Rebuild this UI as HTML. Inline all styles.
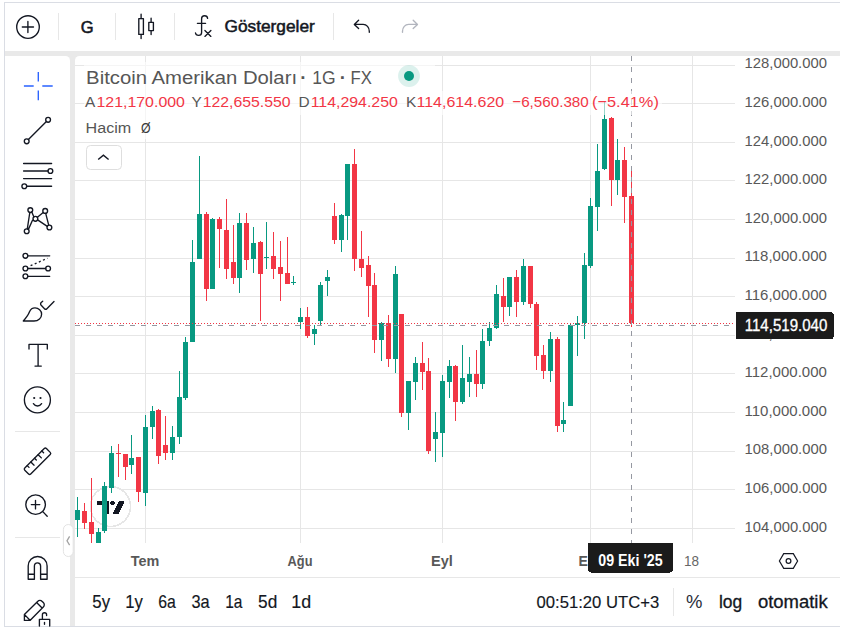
<!DOCTYPE html>
<html><head><meta charset="utf-8"><title>BTCUSD</title>
<style>
html,body{margin:0;padding:0;background:#fff;}
body{width:846px;height:630px;overflow:hidden;position:relative;font-family:'Liberation Sans', Arial, sans-serif;}
svg text{font-family:'Liberation Sans', Arial, sans-serif;}
</style></head><body>
<svg width="846" height="630" viewBox="0 0 846 630" style="position:absolute;left:0;top:0" shape-rendering="crispEdges"><defs><clipPath id="pc"><rect x="75" y="56" width="660" height="487"/></clipPath></defs><rect x="4" y="2" width="836" height="625" fill="#e9e9e9"/><rect x="4" y="2" width="836" height="1" fill="#dadde4"/><rect x="4" y="2" width="1" height="625" fill="#dadde4"/><rect x="4" y="626" width="836" height="1" fill="#dadde4"/><rect x="5" y="3" width="835" height="48" fill="#fff"/><path d="M5 56 H65.5 A4.5 4.5 0 0 1 70 60.5 V626 H5 Z" fill="#fff" shape-rendering="geometricPrecision"/><path d="M79.5 56 H840 V578 H75 V60.5 A4.5 4.5 0 0 1 79.5 56 Z" fill="#fff" shape-rendering="geometricPrecision"/><rect x="75" y="578" width="765" height="48" fill="#fff"/><rect x="75" y="577" width="765" height="1" fill="#e7e7e7"/><g clip-path="url(#pc)"><rect x="75" y="65" width="660" height="1" fill="#e6e6e6"/><rect x="75" y="103" width="660" height="1" fill="#e6e6e6"/><rect x="75" y="142" width="660" height="1" fill="#e6e6e6"/><rect x="75" y="180" width="660" height="1" fill="#e6e6e6"/><rect x="75" y="219" width="660" height="1" fill="#e6e6e6"/><rect x="75" y="258" width="660" height="1" fill="#e6e6e6"/><rect x="75" y="296" width="660" height="1" fill="#e6e6e6"/><rect x="75" y="335" width="660" height="1" fill="#e6e6e6"/><rect x="75" y="373" width="660" height="1" fill="#e6e6e6"/><rect x="75" y="412" width="660" height="1" fill="#e6e6e6"/><rect x="75" y="451" width="660" height="1" fill="#e6e6e6"/><rect x="75" y="489" width="660" height="1" fill="#e6e6e6"/><rect x="75" y="528" width="660" height="1" fill="#e6e6e6"/><rect x="145" y="56" width="1" height="487" fill="#e6e6e6"/><rect x="300" y="56" width="1" height="487" fill="#e6e6e6"/><rect x="442" y="56" width="1" height="487" fill="#e6e6e6"/><rect x="590" y="56" width="1" height="487" fill="#e6e6e6"/><rect x="692" y="56" width="1" height="487" fill="#e6e6e6"/><circle cx="110.5" cy="506.5" r="20" fill="#fff" fill-opacity="0.95" stroke="#e6e6e6" stroke-width="1.5"/><g fill="#131722"><path d="M97 500.5h12.3v13.6h-4v-9.1h-8.3z"/><circle cx="112.6" cy="503.1" r="2.3"/><path d="M119.3 500.5h5.6l-6.2 13.6h-6z"/></g><rect x="77" y="497" width="1" height="40" fill="#089981"/><rect x="75" y="510" width="5" height="10" fill="#089981"/><rect x="84" y="503" width="1" height="26" fill="#f23645"/><rect x="82" y="511" width="5" height="12" fill="#f23645"/><rect x="91" y="478" width="1" height="65" fill="#f23645"/><rect x="89" y="522" width="5" height="12" fill="#f23645"/><rect x="98" y="528" width="1" height="15" fill="#089981"/><rect x="96" y="532" width="5" height="11" fill="#089981"/><rect x="104" y="482" width="1" height="51" fill="#089981"/><rect x="102" y="486" width="5" height="45" fill="#089981"/><rect x="111" y="446" width="1" height="47" fill="#089981"/><rect x="109" y="453" width="5" height="35" fill="#089981"/><rect x="118" y="444" width="1" height="33" fill="#f23645"/><rect x="116" y="453" width="5" height="1" fill="#f23645"/><rect x="125" y="454" width="1" height="26" fill="#f23645"/><rect x="123" y="454" width="5" height="13" fill="#f23645"/><rect x="131" y="435" width="1" height="39" fill="#089981"/><rect x="129" y="458" width="5" height="7" fill="#089981"/><rect x="138" y="457" width="1" height="45" fill="#f23645"/><rect x="136" y="457" width="5" height="35" fill="#f23645"/><rect x="145" y="415" width="1" height="91" fill="#089981"/><rect x="143" y="427" width="5" height="66" fill="#089981"/><rect x="152" y="406" width="1" height="33" fill="#089981"/><rect x="150" y="411" width="5" height="16" fill="#089981"/><rect x="158" y="409" width="1" height="55" fill="#f23645"/><rect x="156" y="410" width="5" height="46" fill="#f23645"/><rect x="165" y="416" width="1" height="44" fill="#f23645"/><rect x="163" y="445" width="5" height="8" fill="#f23645"/><rect x="172" y="426" width="1" height="34" fill="#089981"/><rect x="170" y="437" width="5" height="16" fill="#089981"/><rect x="179" y="371" width="1" height="73" fill="#089981"/><rect x="177" y="397" width="5" height="40" fill="#089981"/><rect x="185" y="337" width="1" height="63" fill="#089981"/><rect x="183" y="342" width="5" height="56" fill="#089981"/><rect x="192" y="240" width="1" height="102" fill="#089981"/><rect x="190" y="262" width="5" height="80" fill="#089981"/><rect x="199" y="156" width="1" height="103" fill="#089981"/><rect x="197" y="214" width="5" height="45" fill="#089981"/><rect x="206" y="212" width="1" height="89" fill="#f23645"/><rect x="204" y="214" width="5" height="75" fill="#f23645"/><rect x="212" y="218" width="1" height="71" fill="#089981"/><rect x="210" y="219" width="5" height="70" fill="#089981"/><rect x="219" y="217" width="1" height="51" fill="#f23645"/><rect x="217" y="219" width="5" height="10" fill="#f23645"/><rect x="226" y="199" width="1" height="80" fill="#f23645"/><rect x="224" y="230" width="5" height="39" fill="#f23645"/><rect x="233" y="225" width="1" height="59" fill="#f23645"/><rect x="231" y="262" width="5" height="16" fill="#f23645"/><rect x="239" y="213" width="1" height="80" fill="#089981"/><rect x="237" y="223" width="5" height="55" fill="#089981"/><rect x="246" y="213" width="1" height="57" fill="#f23645"/><rect x="244" y="223" width="5" height="37" fill="#f23645"/><rect x="253" y="227" width="1" height="46" fill="#089981"/><rect x="251" y="243" width="5" height="16" fill="#089981"/><rect x="260" y="241" width="1" height="80" fill="#f23645"/><rect x="258" y="242" width="5" height="32" fill="#f23645"/><rect x="266" y="222" width="1" height="47" fill="#089981"/><rect x="264" y="257" width="5" height="1" fill="#089981"/><rect x="273" y="232" width="1" height="47" fill="#f23645"/><rect x="271" y="256" width="5" height="13" fill="#f23645"/><rect x="280" y="241" width="1" height="60" fill="#f23645"/><rect x="278" y="267" width="5" height="7" fill="#f23645"/><rect x="287" y="237" width="1" height="47" fill="#f23645"/><rect x="285" y="273" width="5" height="11" fill="#f23645"/><rect x="293" y="276" width="1" height="9" fill="#089981"/><rect x="291" y="282" width="5" height="1" fill="#089981"/><rect x="300" y="308" width="1" height="21" fill="#089981"/><rect x="298" y="317" width="5" height="5" fill="#089981"/><rect x="307" y="307" width="1" height="31" fill="#f23645"/><rect x="305" y="317" width="5" height="19" fill="#f23645"/><rect x="314" y="325" width="1" height="20" fill="#089981"/><rect x="312" y="329" width="5" height="5" fill="#089981"/><rect x="320" y="282" width="1" height="43" fill="#089981"/><rect x="318" y="285" width="5" height="36" fill="#089981"/><rect x="327" y="270" width="1" height="26" fill="#089981"/><rect x="325" y="277" width="5" height="4" fill="#089981"/><rect x="334" y="203" width="1" height="41" fill="#f23645"/><rect x="332" y="216" width="5" height="24" fill="#f23645"/><rect x="341" y="214" width="1" height="38" fill="#089981"/><rect x="339" y="215" width="5" height="25" fill="#089981"/><rect x="347" y="164" width="1" height="76" fill="#089981"/><rect x="345" y="164" width="5" height="52" fill="#089981"/><rect x="354" y="149" width="1" height="122" fill="#f23645"/><rect x="352" y="164" width="5" height="95" fill="#f23645"/><rect x="361" y="231" width="1" height="46" fill="#f23645"/><rect x="359" y="259" width="5" height="9" fill="#f23645"/><rect x="368" y="256" width="1" height="61" fill="#f23645"/><rect x="366" y="265" width="5" height="21" fill="#f23645"/><rect x="374" y="273" width="1" height="80" fill="#f23645"/><rect x="372" y="285" width="5" height="55" fill="#f23645"/><rect x="381" y="322" width="1" height="39" fill="#089981"/><rect x="379" y="323" width="5" height="17" fill="#089981"/><rect x="388" y="315" width="1" height="52" fill="#f23645"/><rect x="386" y="323" width="5" height="36" fill="#f23645"/><rect x="395" y="266" width="1" height="107" fill="#089981"/><rect x="393" y="274" width="5" height="85" fill="#089981"/><rect x="401" y="314" width="1" height="103" fill="#f23645"/><rect x="399" y="314" width="5" height="99" fill="#f23645"/><rect x="408" y="381" width="1" height="49" fill="#089981"/><rect x="406" y="381" width="5" height="32" fill="#089981"/><rect x="415" y="357" width="1" height="43" fill="#089981"/><rect x="413" y="363" width="5" height="19" fill="#089981"/><rect x="422" y="342" width="1" height="48" fill="#f23645"/><rect x="420" y="363" width="5" height="9" fill="#f23645"/><rect x="428" y="358" width="1" height="96" fill="#f23645"/><rect x="426" y="371" width="5" height="80" fill="#f23645"/><rect x="435" y="412" width="1" height="50" fill="#089981"/><rect x="433" y="432" width="5" height="7" fill="#089981"/><rect x="442" y="375" width="1" height="82" fill="#089981"/><rect x="440" y="381" width="5" height="52" fill="#089981"/><rect x="449" y="360" width="1" height="38" fill="#089981"/><rect x="447" y="366" width="5" height="16" fill="#089981"/><rect x="455" y="365" width="1" height="56" fill="#f23645"/><rect x="453" y="366" width="5" height="36" fill="#f23645"/><rect x="462" y="345" width="1" height="59" fill="#089981"/><rect x="460" y="378" width="5" height="24" fill="#089981"/><rect x="469" y="357" width="1" height="40" fill="#089981"/><rect x="467" y="374" width="5" height="8" fill="#089981"/><rect x="476" y="350" width="1" height="47" fill="#f23645"/><rect x="474" y="374" width="5" height="10" fill="#f23645"/><rect x="482" y="329" width="1" height="60" fill="#089981"/><rect x="480" y="341" width="5" height="43" fill="#089981"/><rect x="489" y="322" width="1" height="24" fill="#089981"/><rect x="487" y="328" width="5" height="13" fill="#089981"/><rect x="496" y="285" width="1" height="44" fill="#089981"/><rect x="494" y="294" width="5" height="34" fill="#089981"/><rect x="503" y="278" width="1" height="44" fill="#f23645"/><rect x="501" y="296" width="5" height="11" fill="#f23645"/><rect x="509" y="277" width="1" height="39" fill="#089981"/><rect x="507" y="277" width="5" height="30" fill="#089981"/><rect x="516" y="270" width="1" height="47" fill="#f23645"/><rect x="514" y="277" width="5" height="25" fill="#f23645"/><rect x="523" y="259" width="1" height="46" fill="#089981"/><rect x="521" y="266" width="5" height="36" fill="#089981"/><rect x="530" y="266" width="1" height="42" fill="#f23645"/><rect x="528" y="266" width="5" height="38" fill="#f23645"/><rect x="536" y="302" width="1" height="68" fill="#f23645"/><rect x="534" y="304" width="5" height="52" fill="#f23645"/><rect x="543" y="345" width="1" height="34" fill="#f23645"/><rect x="541" y="355" width="5" height="16" fill="#f23645"/><rect x="550" y="332" width="1" height="50" fill="#089981"/><rect x="548" y="339" width="5" height="32" fill="#089981"/><rect x="557" y="337" width="1" height="95" fill="#f23645"/><rect x="555" y="339" width="5" height="87" fill="#f23645"/><rect x="563" y="402" width="1" height="30" fill="#089981"/><rect x="561" y="420" width="5" height="4" fill="#089981"/><rect x="570" y="324" width="1" height="82" fill="#089981"/><rect x="568" y="325" width="5" height="81" fill="#089981"/><rect x="577" y="316" width="1" height="40" fill="#089981"/><rect x="575" y="323" width="5" height="2" fill="#089981"/><rect x="584" y="253" width="1" height="86" fill="#089981"/><rect x="582" y="265" width="5" height="58" fill="#089981"/><rect x="590" y="198" width="1" height="70" fill="#089981"/><rect x="588" y="206" width="5" height="60" fill="#089981"/><rect x="597" y="144" width="1" height="87" fill="#089981"/><rect x="595" y="171" width="5" height="36" fill="#089981"/><rect x="604" y="101" width="1" height="69" fill="#089981"/><rect x="602" y="119" width="5" height="50" fill="#089981"/><rect x="611" y="117" width="1" height="89" fill="#f23645"/><rect x="609" y="118" width="5" height="62" fill="#f23645"/><rect x="617" y="139" width="1" height="56" fill="#089981"/><rect x="615" y="160" width="5" height="20" fill="#089981"/><rect x="624" y="147" width="1" height="76" fill="#f23645"/><rect x="622" y="160" width="5" height="37" fill="#f23645"/><rect x="631" y="171" width="1" height="156" fill="#f23645"/><rect x="629" y="196" width="5" height="127" fill="#f23645"/><line x1="75" y1="323.5" x2="735" y2="323.5" stroke="#f23645" stroke-width="1" stroke-dasharray="1 2"/><line x1="75" y1="325.5" x2="735" y2="325.5" stroke="#9598a1" stroke-width="1" stroke-dasharray="5 6"/><line x1="631.5" y1="56" x2="631.5" y2="543" stroke="#9598a1" stroke-width="1" stroke-dasharray="5 6"/></g>
<g fill="none" stroke="#131722" stroke-width="1.35" shape-rendering="geometricPrecision" stroke-linecap="round" stroke-linejoin="round"><circle cx="28" cy="27" r="11.3"/><path d="M22.3 27H33.5M27.9 21.4V32.6"/><rect x="138.8" y="18.6" width="4.6" height="15.8"/><path d="M141.1 14.2V18.6M141.1 34.4V38.6"/><rect x="148.8" y="22.3" width="4.6" height="8.3"/><path d="M151.1 18.2V22.3M151.1 30.6V34.6"/><path d="M207.6 18.4C207.4 16.6 206.1 15.7 204.6 15.7C202.8 15.7 201.6 16.9 201.6 18.7V32.4C201.6 34.3 200.4 35.3 198.6 35.3C197 35.3 195.7 34.5 195.5 33.0M197.4 23.3H205.6M204.9 30.5L210.9 36.4M210.9 30.5L204.9 36.4"/><path d="M358.6 20.3L354.3 24.4L358.6 28.6M354.6 24.4H363.2C366.6 24.4 369.3 27.3 369.3 31.3V32.3"/><path stroke="#b2b5be" d="M413.2 20.3L417.5 24.4L413.2 28.6M417.2 24.4H408.6C405.2 24.4 402.5 27.3 402.5 31.3V32.3"/></g><rect x="58" y="13" width="1" height="27" fill="#e7e7e7"/><rect x="115" y="13" width="1" height="27" fill="#e7e7e7"/><rect x="174" y="13" width="1" height="27" fill="#e7e7e7"/><rect x="333" y="13" width="1" height="27" fill="#e7e7e7"/><g fill="none" stroke="#131722" stroke-width="1.35" shape-rendering="geometricPrecision" stroke-linecap="round" stroke-linejoin="round"><path stroke="#2962ff" stroke-linecap="butt" d="M38.3 72V81.5M38.3 90.6V100.2M23.9 86H33.7M42.3 86H52.7"/><path d="M28.4 139.6L46.4 121.5"/><circle cx="26.7" cy="141.3" r="2.4"/><circle cx="48.1" cy="119.8" r="2.4"/><path d="M23.6 163.5H51.6M23.6 171H48M23.6 178.6H51.6M26.8 186.2H51.6"/><circle cx="50.4" cy="171" r="2.4"/><circle cx="24.3" cy="186.2" r="2.4"/><path d="M27.3 228.9L29.8 212.5M31.8 211.9L33.9 217M32.5 220.3L28.4 229.4M37.4 217.3L43.2 212.6M45.7 213.3L48.7 225.1M37.6 219.9L47.3 226.4"/><circle cx="30.3" cy="210.1" r="2.4"/><circle cx="45.2" cy="210.9" r="2.4"/><circle cx="35.4" cy="218.8" r="2.4"/><circle cx="26.7" cy="231.2" r="2.4"/><circle cx="49.4" cy="227.5" r="2.4"/><path d="M27.8 255.8H49.7M27.8 268.5H45.7M27.8 276.3H49.7"/><path stroke-dasharray="2 2.5" stroke-linecap="butt" d="M30.6 265.6L47.5 258.3"/><circle cx="25.4" cy="255.8" r="2.4"/><circle cx="25.4" cy="268.5" r="2.4"/><circle cx="48.1" cy="268.5" r="2.4"/><circle cx="25.4" cy="276.3" r="2.4"/><path d="M23.3 321H34C38.5 321 41.6 317.8 41.6 314.2C41.6 310.6 38.6 307.9 35 307.9C32.2 307.9 30.4 309.6 29.5 311.8C28.3 315 26 318 23.3 321Z"/><path d="M42.7 301.3L41.2 302.6C40.4 303.4 40.4 304.5 41.2 305.3L44.5 308.7C45.2 309.4 46.2 309.4 46.9 308.7L54 301.5"/><path d="M29 349V344.3H47.3V349M38.1 344.3V366.1M35 366.1H41.3"/><circle cx="37.4" cy="399.9" r="13"/><path d="M33.4 403.6C35.5 406.8 39.5 406.8 41.6 403.6"/><circle cx="34.2" cy="398" r="1.1" fill="#131722" stroke="none"/><circle cx="40.5" cy="398" r="1.1" fill="#131722" stroke="none"/><g transform="translate(37.5 461.3) rotate(-45)"><rect x="-15.3" y="-4.2" width="30.6" height="8.4" rx="1.5"/><path d="M-10.3 -4.2v2.5M-5.15 -4.2v4.5M0 -4.2v2.5M5.15 -4.2v4.5M10.3 -4.2v2.5"/></g><circle cx="35.6" cy="504.6" r="9.8"/><path d="M42.8 511.6L47.2 516.2M31.3 504.6H39.8M35.5 500.3V508.9"/><path d="M28.2 579.2V566C28.2 560.8 32.4 556.5 37.65 556.5C42.9 556.5 47.1 560.8 47.1 566V579.2H40.6V566C40.6 564.2 39.3 562.8 37.5 562.8C35.7 562.8 34.4 564.2 34.4 566V579.2Z M28.2 574.2H34.4M40.6 574.2H47.1"/><path d="M24.4 614.6L37.6 601.4C38.9 600.1 40.9 600.1 42.2 601.4L43.3 602.5C44.6 603.8 44.6 605.8 43.3 607.1L30 620.4H24.4Z M24.6 614.6L30 620.2 M37.1 603.1L41.6 607.6"/><path d="M42.4 619V614.8C42.4 613.6 43.4 612.7 44.5 612.7C45.6 612.7 46.6 613.6 46.6 614.8V615.6M39.4 626V619.3H49.7V626M44.5 622.3V624.3"/></g><rect x="15" y="431" width="45" height="1" fill="#e7e7e7"/><rect x="15" y="537" width="45" height="1" fill="#e7e7e7"/><rect x="63.4" y="524.5" width="9.8" height="32" rx="4.9" fill="#fff" stroke="#e3e3e3" shape-rendering="geometricPrecision"/><path d="M69.6 536.4L67 540.8L69.6 545.1" fill="none" stroke="#a3a3a3" stroke-width="1.3" shape-rendering="geometricPrecision"/><rect x="86.5" y="145.5" width="35" height="24" rx="4" fill="#fff" stroke="#dedede" shape-rendering="geometricPrecision"/><path d="M98.2 159.5L103.4 155.2L108.6 159.5" fill="none" stroke="#131722" stroke-width="1.4" shape-rendering="geometricPrecision"/><path d="M783.7 553.6H793.3L797.6 561L793.3 568.4H783.7L779.4 561Z" fill="none" stroke="#131722" stroke-width="1.2" shape-rendering="geometricPrecision"/><circle cx="788.5" cy="561" r="2.4" fill="none" stroke="#131722" stroke-width="1.2" shape-rendering="geometricPrecision"/><rect x="673" y="588" width="1" height="28" fill="#e7e7e7"/>
<rect x="84" y="62" width="351" height="29" fill="#fff" fill-opacity="0.6"/><rect x="84" y="91" width="578" height="24" fill="#fff" fill-opacity="0.6"/><rect x="84" y="115" width="72" height="24" fill="#fff" fill-opacity="0.6"/><text x="96.47" y="107" font-size="15.4" font-weight="400" fill="#f23645" textLength="88.45" lengthAdjust="spacingAndGlyphs">121,170.000</text><text x="744.54" y="68.3" font-size="15.5" font-weight="400" fill="#585858" textLength="82.45" lengthAdjust="spacingAndGlyphs">128,000.000</text><text x="744.54" y="106.9" font-size="15.5" font-weight="400" fill="#585858" textLength="82.45" lengthAdjust="spacingAndGlyphs">126,000.000</text><text x="744.54" y="145.5" font-size="15.5" font-weight="400" fill="#585858" textLength="82.45" lengthAdjust="spacingAndGlyphs">124,000.000</text><text x="744.54" y="184.1" font-size="15.5" font-weight="400" fill="#585858" textLength="82.45" lengthAdjust="spacingAndGlyphs">122,000.000</text><text x="744.54" y="222.7" font-size="15.5" font-weight="400" fill="#585858" textLength="82.45" lengthAdjust="spacingAndGlyphs">120,000.000</text><text x="744.53" y="261.3" font-size="15.5" font-weight="400" fill="#585858" textLength="82.31" lengthAdjust="spacingAndGlyphs">118,000.000</text><text x="744.53" y="299.9" font-size="15.5" font-weight="400" fill="#585858" textLength="82.31" lengthAdjust="spacingAndGlyphs">116,000.000</text><text x="744.53" y="338.5" font-size="15.5" font-weight="400" fill="#585858" textLength="82.31" lengthAdjust="spacingAndGlyphs">114,000.000</text><text x="744.53" y="377.1" font-size="15.5" font-weight="400" fill="#585858" textLength="82.31" lengthAdjust="spacingAndGlyphs">112,000.000</text><text x="744.53" y="415.7" font-size="15.5" font-weight="400" fill="#585858" textLength="82.31" lengthAdjust="spacingAndGlyphs">110,000.000</text><text x="744.54" y="454.3" font-size="15.5" font-weight="400" fill="#585858" textLength="82.45" lengthAdjust="spacingAndGlyphs">108,000.000</text><text x="744.54" y="492.9" font-size="15.5" font-weight="400" fill="#585858" textLength="82.45" lengthAdjust="spacingAndGlyphs">106,000.000</text><text x="744.54" y="531.5" font-size="15.5" font-weight="400" fill="#585858" textLength="82.45" lengthAdjust="spacingAndGlyphs">104,000.000</text><text x="578.50" y="565.8" font-size="14" font-weight="700" fill="#585858">Eki</text><circle cx="409" cy="76" r="10.9" fill="#089981" fill-opacity="0.14" shape-rendering="geometricPrecision"/><circle cx="409" cy="76" r="5" fill="#089981" shape-rendering="geometricPrecision"/><path d="M736 312.4H831.5Q833.7 312.4 833.7 314.6V336.8Q833.7 339 831.5 339H736Z" fill="#1b1b1b"/><path d="M588 543H673V569.5Q673 572.5 670 572.5H591Q588 572.5 588 569.5Z" fill="#1b1b1b"/><text x="86.13" y="83.9" font-size="18.9" font-weight="400" fill="#565656" textLength="210.92" lengthAdjust="spacingAndGlyphs">Bitcoin Amerikan Doları</text><text x="300.30" y="83.9" font-size="18.9" font-weight="700" fill="#565656">·</text><text x="312.37" y="83.9" font-size="18.9" font-weight="400" fill="#565656" textLength="23.34" lengthAdjust="spacingAndGlyphs">1G</text><text x="339.80" y="83.9" font-size="18.9" font-weight="700" fill="#565656">·</text><text x="350.62" y="83.9" font-size="18.9" font-weight="400" fill="#565656" textLength="21.31" lengthAdjust="spacingAndGlyphs">FX</text><text x="85.00" y="107" font-size="15.4" font-weight="400" fill="#565656">A</text><text x="191.50" y="107" font-size="15.4" font-weight="400" fill="#565656">Y</text><text x="202.67" y="107" font-size="15.4" font-weight="400" fill="#f23645" textLength="87.94" lengthAdjust="spacingAndGlyphs">122,655.550</text><text x="298.60" y="107" font-size="15.4" font-weight="400" fill="#565656">D</text><text x="310.67" y="107" font-size="15.4" font-weight="400" fill="#f23645" textLength="87.20" lengthAdjust="spacingAndGlyphs">114,294.250</text><text x="406.00" y="107" font-size="15.4" font-weight="400" fill="#565656">K</text><text x="416.56" y="107" font-size="15.4" font-weight="400" fill="#f23645" textLength="87.61" lengthAdjust="spacingAndGlyphs">114,614.620</text><text x="512.31" y="107" font-size="15.4" font-weight="400" fill="#f23645" textLength="76.45" lengthAdjust="spacingAndGlyphs">−6,560.380</text><text x="592.04" y="107" font-size="15.4" font-weight="400" fill="#f23645" textLength="66.81" lengthAdjust="spacingAndGlyphs">(−5.41%)</text><text x="85.64" y="133" font-size="15.2" font-weight="400" fill="#565656" textLength="45.67" lengthAdjust="spacingAndGlyphs">Hacim</text><text x="140.99" y="133" font-size="15.2" font-weight="400" fill="#3a3a3a" textLength="9.58" lengthAdjust="spacingAndGlyphs">Ø</text><text x="80.70" y="32.6" font-size="16.5" font-weight="400" fill="#131722" stroke="#131722" stroke-width="0.55" textLength="12.84" lengthAdjust="spacingAndGlyphs">G</text><text x="224.50" y="31.5" font-size="16" font-weight="400" fill="#131722" stroke="#131722" stroke-width="0.5" textLength="90.26" lengthAdjust="spacingAndGlyphs">Göstergeler</text><text x="744.73" y="330.5" font-size="15.6" font-weight="400" fill="#ffffff" stroke="#ffffff" stroke-width="0.3" textLength="82.61" lengthAdjust="spacingAndGlyphs">114,519.040</text><text x="130.80" y="565.8" font-size="14" font-weight="700" fill="#585858" textLength="28.57" lengthAdjust="spacingAndGlyphs">Tem</text><text x="287.60" y="565.8" font-size="14" font-weight="700" fill="#585858" textLength="24.90" lengthAdjust="spacingAndGlyphs">Ağu</text><text x="431.06" y="565.8" font-size="14" font-weight="700" fill="#585858" textLength="21.79" lengthAdjust="spacingAndGlyphs">Eyl</text><text x="684.08" y="565.8" font-size="14.7" font-weight="400" fill="#666666" textLength="15.04" lengthAdjust="spacingAndGlyphs">18</text><text x="598.30" y="566.2" font-size="15.8" font-weight="700" fill="#ffffff" textLength="64.35" lengthAdjust="spacingAndGlyphs">09 Eki '25</text><text x="92.36" y="607.8" font-size="17.8" font-weight="400" fill="#131722" stroke="#131722" stroke-width="0.15" textLength="17.74" lengthAdjust="spacingAndGlyphs">5y</text><text x="125.26" y="607.8" font-size="17.8" font-weight="400" fill="#131722" stroke="#131722" stroke-width="0.15" textLength="17.63" lengthAdjust="spacingAndGlyphs">1y</text><text x="158.21" y="607.8" font-size="17.8" font-weight="400" fill="#131722" stroke="#131722" stroke-width="0.15" textLength="17.59" lengthAdjust="spacingAndGlyphs">6a</text><text x="191.38" y="607.8" font-size="17.8" font-weight="400" fill="#131722" stroke="#131722" stroke-width="0.15" textLength="18.22" lengthAdjust="spacingAndGlyphs">3a</text><text x="225.23" y="607.8" font-size="17.8" font-weight="400" fill="#131722" stroke="#131722" stroke-width="0.15" textLength="17.28" lengthAdjust="spacingAndGlyphs">1a</text><text x="258.03" y="607.8" font-size="17.8" font-weight="400" fill="#131722" stroke="#131722" stroke-width="0.15" textLength="19.23" lengthAdjust="spacingAndGlyphs">5d</text><text x="291.19" y="607.8" font-size="17.8" font-weight="400" fill="#131722" stroke="#131722" stroke-width="0.15" textLength="19.89" lengthAdjust="spacingAndGlyphs">1d</text><text x="536.54" y="607.5" font-size="17.4" font-weight="400" fill="#131722" stroke="#131722" stroke-width="0.15" textLength="122.66" lengthAdjust="spacingAndGlyphs">00:51:20 UTC+3</text><text x="685.97" y="607.9" font-size="18" font-weight="400" fill="#2a2e39" textLength="16.44" lengthAdjust="spacingAndGlyphs">%</text><text x="719.00" y="607.5" font-size="17.5" font-weight="400" fill="#131722" stroke="#131722" stroke-width="0.3" textLength="23.25" lengthAdjust="spacingAndGlyphs">log</text><text x="757.90" y="607.5" font-size="17.5" font-weight="400" fill="#131722" stroke="#131722" stroke-width="0.3" textLength="69.75" lengthAdjust="spacingAndGlyphs">otomatik</text>
</svg>
</body></html>
